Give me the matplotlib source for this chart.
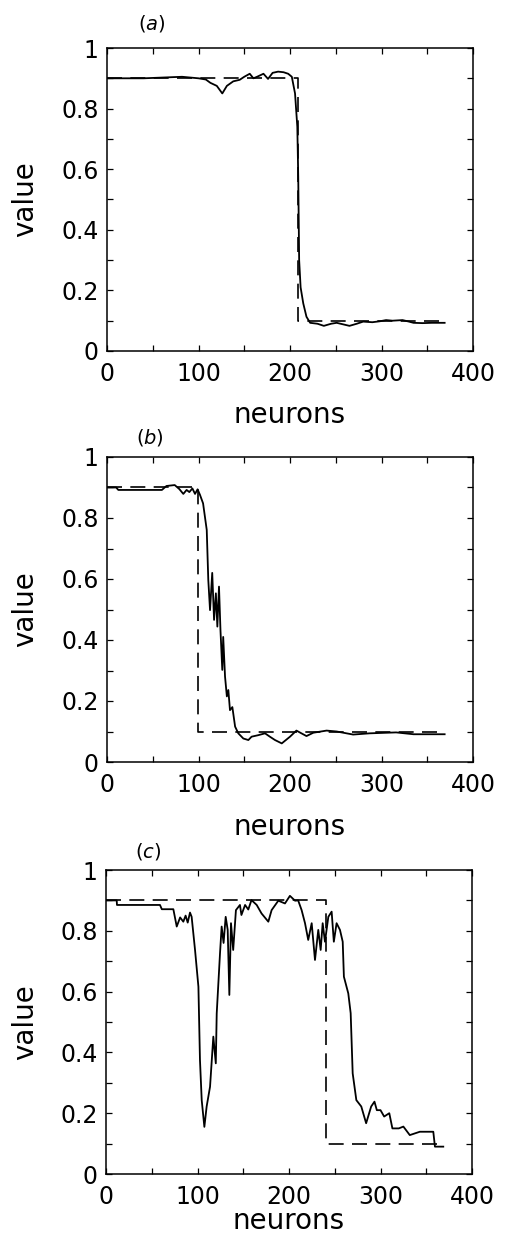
import matplotlib
matplotlib.use('Agg')
import matplotlib.pyplot as plt
from matplotlib.ticker import MultipleLocator, FuncFormatter

# target: high / low levels and where the step happens
high, low = 0.9, 0.1
n_end = 369
steps = [209, 99, 240]
tags = ['a', 'b', 'c']

# network output
xa = [0, 12, 40, 82, 100, 108, 113, 120, 126, 131, 138, 145, 150, 156, 160, 164, 171, 176, 181, 187,
      193, 198, 202, 205.5, 208, 209, 210, 211.6, 214.5, 218, 222, 230, 237, 245, 251, 258, 265, 273,
      280, 290, 298, 305, 312, 323, 330, 335, 345, 355, 369]
ya = [0.9, 0.9, 0.9, 0.905, 0.9, 0.896, 0.885, 0.875, 0.85, 0.875, 0.89, 0.895, 0.905, 0.915, 0.9,
      0.905, 0.915, 0.898, 0.918, 0.922, 0.92, 0.915, 0.905, 0.85, 0.74, 0.575, 0.3, 0.21, 0.157, 0.113,
      0.093, 0.09, 0.083, 0.09, 0.093, 0.088, 0.083, 0.09, 0.097, 0.095, 0.098, 0.102, 0.1, 0.102,
      0.097, 0.093, 0.092, 0.093, 0.093]

xb = [0, 10, 12.4, 60, 65, 74, 79, 83.4, 87, 90, 93.3, 96.2, 99, 101.6, 105, 109, 110.7, 112.6, 115, 117,
      119, 120.6, 122.4, 124, 126, 127, 129, 131, 132.6, 134.4, 137, 140, 143.5, 149, 154.5, 158, 165.4,
      172.7, 178, 183.6, 191, 200, 207, 218, 225.5, 240, 251, 269, 287, 316, 335, 369]
yb = [0.9, 0.9, 0.892, 0.892, 0.905, 0.908, 0.895, 0.879, 0.892, 0.885, 0.897, 0.879, 0.894, 0.876,
      0.848, 0.761, 0.597, 0.498, 0.62, 0.466, 0.553, 0.444, 0.575, 0.433, 0.302, 0.41, 0.28, 0.215,
      0.236, 0.17, 0.18, 0.116, 0.094, 0.077, 0.072, 0.083, 0.088, 0.094, 0.083, 0.072, 0.061, 0.083,
      0.103, 0.085, 0.096, 0.103, 0.1, 0.09, 0.094, 0.097, 0.091, 0.091]

xc = [0, 11.7, 12, 59, 61, 73.6, 77.3, 81, 84.5, 87, 89.3, 91.8, 93.6, 97.3, 101, 102.7, 104.6, 107.5,
      110, 113.7, 117.3, 120, 121, 124.6, 126.4, 128.5, 130.8, 133, 134.8, 136.6, 139, 142, 146.4, 148,
      152, 155.5, 159, 164.7, 170, 177.4, 181, 188.3, 195.6, 201, 206.6, 210, 213.8, 217.5, 221, 224.8,
      228.4, 232, 234.6, 236.8, 239.3, 243, 246.6, 249, 252, 255.7, 258.7, 260, 264.8, 267.4, 269.6,
      273.6, 279, 284.3, 289.8, 293.4, 296, 300, 304, 309.6, 313, 320, 325, 332, 343, 357.7, 359.5, 368.6]
yc = [0.9, 0.9, 0.885, 0.885, 0.871, 0.871, 0.814, 0.844, 0.83, 0.85, 0.827, 0.86, 0.846, 0.737, 0.616,
      0.375, 0.243, 0.155, 0.222, 0.287, 0.452, 0.364, 0.528, 0.726, 0.814, 0.76, 0.846, 0.803, 0.589,
      0.825, 0.737, 0.868, 0.885, 0.852, 0.885, 0.87, 0.901, 0.885, 0.857, 0.83, 0.868, 0.899, 0.89,
      0.915, 0.899, 0.9, 0.868, 0.825, 0.77, 0.825, 0.704, 0.803, 0.737, 0.825, 0.764, 0.846, 0.863,
      0.764, 0.825, 0.803, 0.764, 0.649, 0.594, 0.529, 0.331, 0.243, 0.222, 0.167, 0.222, 0.238, 0.21,
      0.21, 0.189, 0.2, 0.15, 0.15, 0.156, 0.128, 0.139, 0.139, 0.09, 0.09]

curves = [(xa, ya), (xb, yb), (xc, yc)]

W, H = 507, 1252
fig = plt.figure(figsize=(W / 100, H / 100), dpi=100)

# axes boxes in pixels: left, top, right, bottom
boxes = [(107, 48, 473, 351), (107, 457, 473, 762), (106, 870, 472, 1174)]
tag_pos = [(152, 23), (150, 438), (148, 852)]
xlab_y = [415, 827, 1221]

for i in range(3):
    l, t, r, b = boxes[i]
    ax = fig.add_axes([l / W, 1 - b / H, (r - l) / W, (b - t) / H])
    x, y = curves[i]
    s = steps[i]
    ax.plot([0, s, s, n_end], [high, high, low, low], color='black', lw=1.2,
            linestyle=(0, (9, 5)))
    ax.plot(x, y, color='black', lw=1.3)
    ax.set_xlim(0, 400)
    ax.set_ylim(0, 1)
    ax.xaxis.set_major_locator(MultipleLocator(100))
    ax.xaxis.set_minor_locator(MultipleLocator(50))
    ax.yaxis.set_major_locator(MultipleLocator(0.2))
    ax.yaxis.set_minor_locator(MultipleLocator(0.1))
    ax.yaxis.set_major_formatter(FuncFormatter(lambda v, p: f'{v:g}'))
    ax.tick_params(which='both', direction='in', top=True, right=True, length=4, width=0.9)
    ax.tick_params(axis='x', which='major', pad=8, labelsize=17)
    ax.tick_params(axis='y', which='major', pad=6, labelsize=17)
    for sp in ax.spines.values():
        sp.set_linewidth(1.1)
    fig.text(25 / W, 1 - (t + b) / 2 / H, 'value', rotation=90, ha='center', va='center', fontsize=20)
    fig.text((l + r) / 2 / W, 1 - xlab_y[i] / H, 'neurons', ha='center', va='center', fontsize=20)
    tx, ty = tag_pos[i]
    fig.text(tx / W, 1 - ty / H, '(' + r'$\it{' + tags[i] + '}$' + ')', ha='center', va='center',
             fontsize=14)

fig.savefig('out.png', dpi=100)
